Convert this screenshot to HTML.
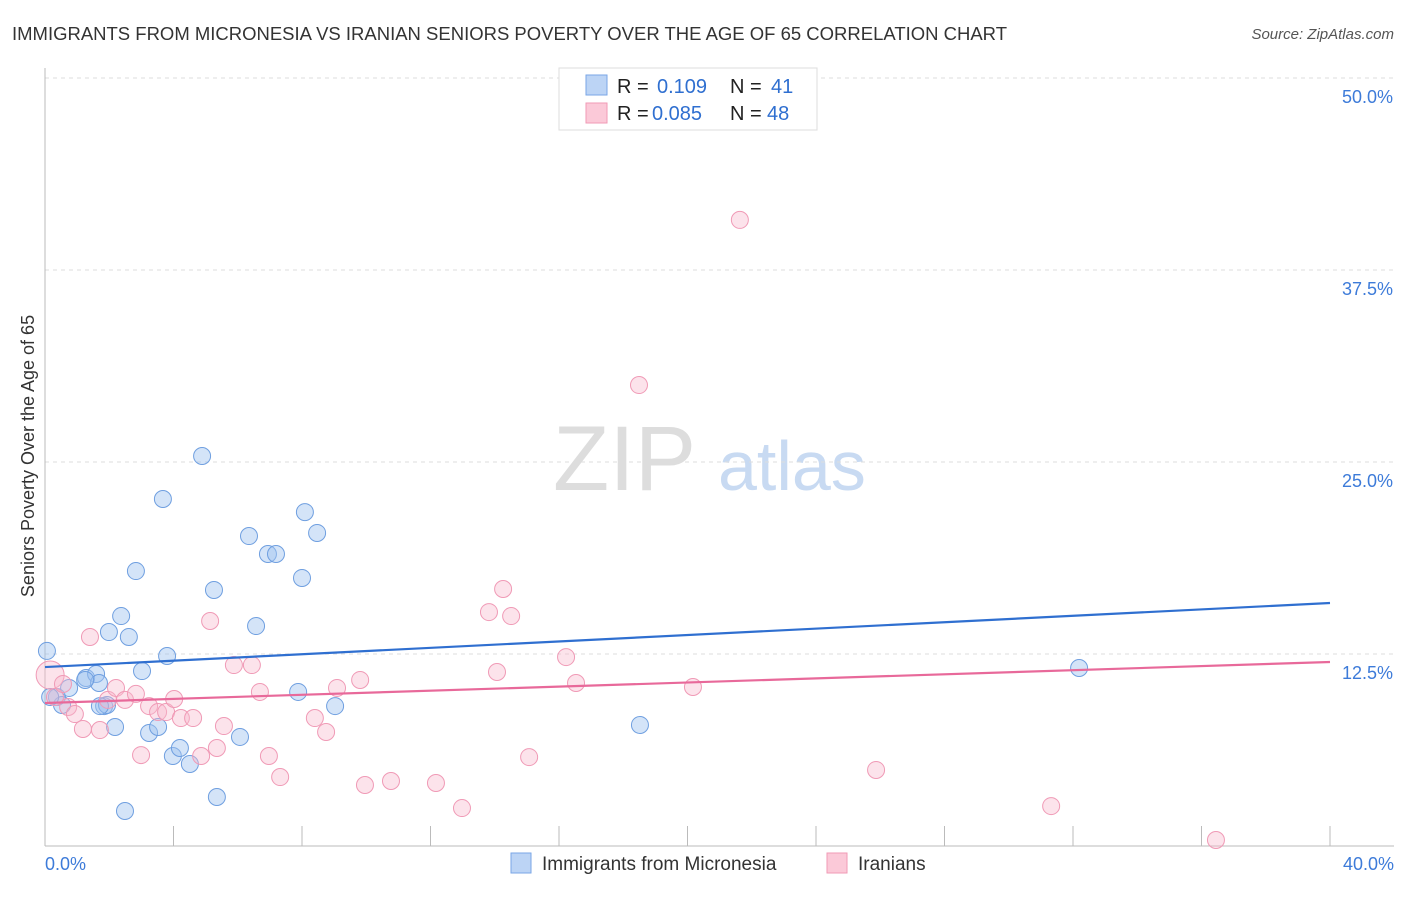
<!DOCTYPE html>
<html><head><meta charset="utf-8"><style>
body{margin:0;background:#fff;font-family:"Liberation Sans",sans-serif}
svg text{font-family:"Liberation Sans",sans-serif}
</style></head><body>
<svg width="1406" height="892" id="chart">
<text x="12" y="40" font-size="18" fill="#333" textLength="995" lengthAdjust="spacingAndGlyphs">IMMIGRANTS FROM MICRONESIA VS IRANIAN SENIORS POVERTY OVER THE AGE OF 65 CORRELATION CHART</text>
<text x="1394" y="39" font-size="15" fill="#555" font-style="italic" text-anchor="end">Source: ZipAtlas.com</text>
<text x="34" y="456" font-size="18" fill="#333" text-anchor="middle" transform="rotate(-90 34 456)">Seniors Poverty Over the Age of 65</text>
<text x="553" y="490" font-size="92" fill="#ddd" font-family="Liberation Serif">ZIP</text>
<text x="718" y="490" font-size="70" fill="#c8daf2">atlas</text>
<g id="grid"></g><g id="pts"></g><g id="lines"></g>
<g>
<rect x="559" y="68" width="258" height="62" fill="#fff" stroke="#ddd"/>
<rect x="586" y="75" width="21" height="20" fill="#bcd4f5" stroke="#7aa6e6"/>
<rect x="586" y="103" width="21" height="20" fill="#fbc9d8" stroke="#f09ab6"/>
<g font-size="20">
<text x="617" y="93" fill="#222">R =</text>
<text x="657" y="93" fill="#2f6fd0">0.109</text>
<text x="730" y="93" fill="#222">N =</text>
<text x="771" y="93" fill="#2f6fd0">41</text>
<text x="617" y="120" fill="#222">R =</text>
<text x="652" y="120" fill="#2f6fd0">0.085</text>
<text x="730" y="120" fill="#222">N =</text>
<text x="767" y="120" fill="#2f6fd0">48</text>
</g>
</g>
<g>
<rect x="511" y="853" width="20" height="20" fill="#bcd4f5" stroke="#7aa6e6"/>
<text x="542" y="870" font-size="19" fill="#333">Immigrants from Micronesia</text>
<rect x="827" y="853" width="20" height="20" fill="#fbc9d8" stroke="#f09ab6"/>
<text x="858" y="870" font-size="19" fill="#333">Iranians</text>
</g>
</svg>
<script>
const yTicks=[12.5,25,37.5,50];
const yTickLabels=["12.5%","25.0%","37.5%","50.0%"];
const xTickLabels=["0.0%","40.0%"];
const blueX=[0.06,0.37,0.53,0.75,1.28,1.59,1.68,1.84,1.93,1.99,2.18,2.37,2.61,2.83,3.02,3.24,3.52,3.67,3.8,3.98,4.2,4.51,4.89,5.26,5.35,6.07,6.35,6.57,6.94,7.19,7.88,8.0,8.09,8.47,9.03,2.49,18.52,32.19,1.71,0.16,1.25];
const blueY=[12.7,9.7,9.18,10.29,10.94,11.2,10.61,9.11,9.18,13.93,7.75,14.97,13.61,17.9,11.39,7.36,7.75,22.59,12.37,5.86,6.38,5.34,25.39,16.67,3.19,7.1,20.18,14.32,19.01,19.01,10.03,17.45,21.74,20.38,9.11,2.28,7.88,11.59,9.11,9.7,10.81];
const pinkX=[0.16,0.31,0.56,0.72,0.93,1.18,1.4,1.71,1.96,2.21,2.49,2.83,2.99,3.24,3.52,3.77,4.02,4.23,4.61,4.86,5.14,5.35,5.57,5.88,6.44,6.69,6.97,7.32,8.4,8.75,9.09,9.81,9.96,10.77,12.17,12.98,13.82,14.07,14.26,14.51,15.07,16.22,16.53,18.49,20.17,21.63,25.87,31.32,36.45];
const pinkY=[11.13,9.7,10.55,9.05,8.59,7.62,13.61,7.55,9.51,10.29,9.51,9.9,5.92,9.11,8.72,8.72,9.57,8.33,8.33,5.86,14.65,6.38,7.81,11.78,11.78,10.03,5.86,4.49,8.33,7.42,10.29,10.81,3.97,4.23,4.1,2.47,15.23,11.33,16.73,14.97,5.79,12.3,10.61,30.01,10.35,40.76,4.95,2.6,0.39];
const blueTrend=[11.65,15.82];
const pinkTrend=[9.31,11.98];
const X=v=>45+v*32.125, Y=v=>846-v*15.36;
const NS="http://www.w3.org/2000/svg";
function mk(t,a,p){const e=document.createElementNS(NS,t);for(const k in a)e.setAttribute(k,a[k]);p.appendChild(e);return e;}
const g=document.getElementById('grid');
yTicks.forEach((v,i)=>{
 const l=mk('line',{x1:45,x2:1394,y1:Y(v),y2:Y(v),stroke:'#ddd','stroke-dasharray':'4,4'},g);
 
 
 const t=mk('text',{x:1393,y:Y(v)+25,'font-size':18,fill:'#3d7bd9','text-anchor':'end'},g);
 t.textContent=yTickLabels[i];
 
 
});
const ax=mk('line',{x1:45,x2:1394,y1:846,y2:846,stroke:'#bbb'},g);


const ay=mk('line',{x1:45,x2:45,y1:68,y2:846,stroke:'#bbb'},g);


for(let i=0;i<=10;i++){const tk=mk('line',{x1:X(i*4),x2:X(i*4),y1:826,y2:846,stroke:'#bbb'},g);
 
 }
[[0,45,'start'],[40,1394,'end']].forEach((d,i)=>{const t=mk('text',{x:d[1],y:870,'font-size':18,fill:'#3d7bd9','text-anchor':d[2]},g);t.textContent=xTickLabels[i];
 
 });
const p=document.getElementById('pts');
blueX.forEach((v,i)=>{const c=mk('circle',{cx:X(v),cy:Y(blueY[i]),r:8.5,fill:'rgba(160,195,240,0.45)',stroke:'#6f9fe0','stroke-width':1},p);
 
 });
pinkX.forEach((v,i)=>{const c=mk('circle',{cx:X(v),cy:Y(pinkY[i]),r:i==0?14:8.5,fill:'rgba(248,185,205,0.4)',stroke:'#f09ab6','stroke-width':1},p);
 
 });
const L=document.getElementById('lines');
const bl=mk('line',{x1:X(0),x2:X(40),y1:Y(blueTrend[0]),y2:Y(blueTrend[1]),stroke:'#2f6fd0','stroke-width':2.2},L);


const pl=mk('line',{x1:X(0),x2:X(40),y1:Y(pinkTrend[0]),y2:Y(pinkTrend[1]),stroke:'#e8699a','stroke-width':2.2},L);


</script>
</body></html>
